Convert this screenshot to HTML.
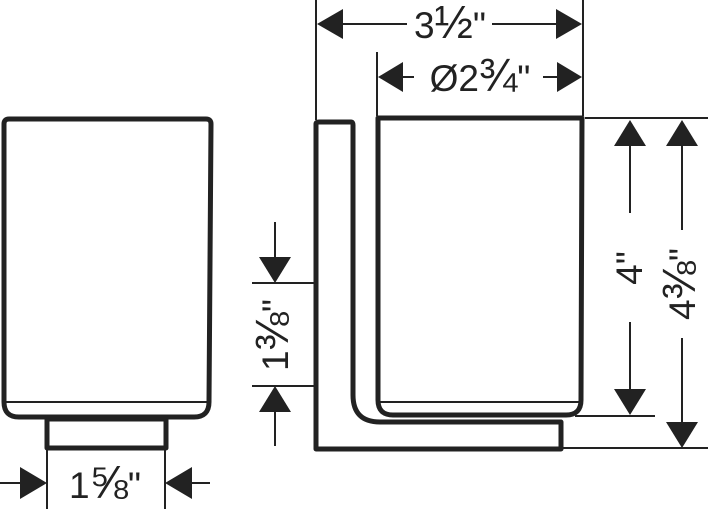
<!DOCTYPE html>
<html><head><style>
html,body{margin:0;padding:0;background:#fff;}
svg{display:block;}
text{font-family:"Liberation Sans",sans-serif;fill:#222;}
.f{font-size:46px;}
</style></head><body>
<svg width="708" height="509" viewBox="0 0 708 509" xmlns="http://www.w3.org/2000/svg">
<g fill="none" stroke="#222" stroke-linejoin="round">
  <path d="M4,124 Q4,119 9,119 L206,119 Q211,119 211,124 L209,402 Q209,417 194,417 L19,417 Q4,417 4,402 Z" stroke-width="5"/>
  <line x1="5" y1="402" x2="208" y2="402" stroke-width="2"/>
  <rect x="47" y="419" width="119" height="29" stroke-width="5"/>
  <path d="M316,124 Q316,122 319,122 L351,122 Q353,122 353,125 L353,395 Q353,422 380,422 L561,422 L561,449 L316,449 Z" stroke-width="5"/>
  <path d="M378,118 L582,118 L581,400 Q581,415 566,415 L393,415 Q378,415 378,400 Z" stroke-width="5"/>
  <line x1="379" y1="402" x2="580" y2="402" stroke-width="2"/>
</g>
<g stroke="#222" stroke-width="2" fill="none">
  <line x1="47" y1="449" x2="47" y2="509"/>
  <line x1="165" y1="449" x2="165" y2="509"/>
  <line x1="0" y1="483" x2="22" y2="483"/>
  <line x1="190" y1="483" x2="210" y2="483"/>
  <line x1="316" y1="0" x2="316" y2="120"/>
  <line x1="583" y1="0" x2="583" y2="116"/>
  <line x1="340" y1="24" x2="407" y2="24"/>
  <line x1="492" y1="24" x2="560" y2="24"/>
  <line x1="377" y1="52" x2="377" y2="116"/>
  <line x1="400" y1="77" x2="414" y2="77"/>
  <line x1="543" y1="77" x2="560" y2="77"/>
  <line x1="585" y1="118" x2="708" y2="118"/>
  <line x1="575" y1="416" x2="655" y2="416"/>
  <line x1="563" y1="448" x2="708" y2="448"/>
  <line x1="630" y1="140" x2="630" y2="213"/>
  <line x1="630" y1="322" x2="630" y2="395"/>
  <line x1="682" y1="140" x2="682" y2="230"/>
  <line x1="682" y1="338" x2="682" y2="428"/>
  <line x1="252" y1="283" x2="315" y2="283"/>
  <line x1="252" y1="386" x2="315" y2="386"/>
  <line x1="275" y1="222" x2="275" y2="260"/>
  <line x1="275" y1="408" x2="275" y2="446"/>
</g>
<g fill="#222">
  <polygon points="47,483 20,467 20,499"/>
  <polygon points="165,483 192,467 192,499"/>
  <polygon points="317,24 343,9 343,39"/>
  <polygon points="582,24 556,9 556,39"/>
  <polygon points="378,77 403,62 403,92"/>
  <polygon points="582,77 557,62 557,92"/>
  <polygon points="630,120 614,146 646,146"/>
  <polygon points="630,415 614,389 646,389"/>
  <polygon points="682,120 666,146 698,146"/>
  <polygon points="682,448 666,422 698,422"/>
  <polygon points="275,283 259,257 291,257"/>
  <polygon points="275,386 259,412 291,412"/>
</g>
<g font-size="37">
  <text x="105" y="498" text-anchor="middle">1<tspan class="f">⅝</tspan>"</text>
  <text x="450" y="38" text-anchor="middle">3<tspan class="f">½</tspan>"</text>
  <text x="480" y="91" text-anchor="middle">Ø2<tspan class="f">¾</tspan>"</text>
  <text transform="translate(642,268) rotate(-90)" text-anchor="middle">4"</text>
  <text transform="translate(695,284) rotate(-90)" text-anchor="middle">4<tspan class="f">⅜</tspan>"</text>
  <text transform="translate(288,335) rotate(-90)" text-anchor="middle">1<tspan class="f">⅜</tspan>"</text>
</g>
</svg>
</body></html>
